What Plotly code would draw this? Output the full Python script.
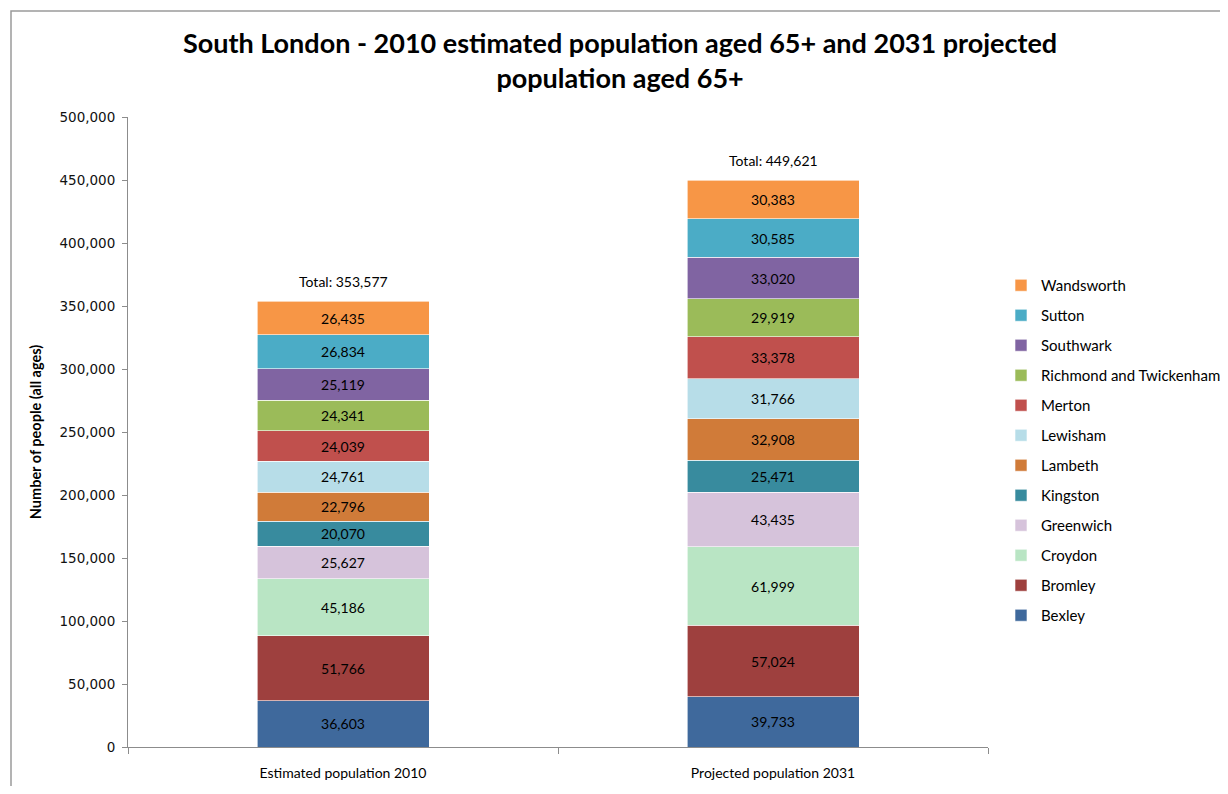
import plotly.graph_objects as go

categories = ["Estimated population 2010", "Projected population 2031"]
boroughs = ["Bexley", "Bromley", "Croydon", "Greenwich", "Kingston", "Lambeth",
            "Lewisham", "Merton", "Richmond and Twickenham", "Southwark", "Sutton", "Wandsworth"]
values_2010 = [36603, 51766, 45186, 25627, 20070, 22796, 24761, 24039, 24341, 25119, 26834, 26435]
values_2031 = [39733, 57024, 61999, 43435, 25471, 32908, 31766, 33378, 29919, 33020, 30585, 30383]
colors = ["#3F699C", "#9E403E", "#B9E5C4", "#D6C3DB", "#388B9E", "#D07B39",
          "#B7DDE8", "#C0504D", "#9BBB59", "#8064A2", "#4BACC6", "#F79646"]
totals = [sum(values_2010), sum(values_2031)]

FONT = "Lato"
fig = go.Figure()
n = len(boroughs)
for i, b in enumerate(boroughs):
    vals = [values_2010[i], values_2031[i]]
    fig.add_trace(go.Bar(
        x=categories, y=vals, name=b, legendgroup=b, legendrank=100 + (n - i),
        marker=dict(color=colors[i], line=dict(color="white", width=0.6)),
        text=[f"{v:,}" for v in vals], textposition="inside", insidetextanchor="middle",
        textfont=dict(family=FONT, size=14, color="black"),
        width=0.4, hoverinfo="skip",
    ))

for c, t in zip(categories, totals):
    fig.add_annotation(x=c, y=t, text=f"Total: {t:,}", showarrow=False,
                       yanchor="bottom", yshift=9,
                       font=dict(family=FONT, size=14, color="black"))

# page has 8px body margin; figure sized so the whole page is 1228x794
OFF = 8
W, H = 1228 - 2 * OFF, 794 - 2 * OFF
L, T = 128 - OFF, 117 - OFF
R = W - (988 - OFF)
B = H - (747 - OFF)
pw, ph = W - L - R, H - T - B
def px(x): return (x - OFF - L) / pw
def py(y): return (H - B - (y - OFF)) / ph

fig.add_shape(type="rect", xref="paper", yref="paper",
              x0=px(11), x1=px(1250), y0=py(810), y1=py(11),
              line=dict(color="#9a9a9a", width=1.5), fillcolor="rgba(0,0,0,0)", layer="below")

fig.update_layout(
    barmode="stack", width=W, height=H,
    margin=dict(l=L, r=R, t=T, b=B, autoexpand=False),
    plot_bgcolor="white", paper_bgcolor="white",
    title=dict(text="<b>South London - 2010 estimated population aged 65+ and 2031 projected<br>population aged 65+</b>",
               x=0.505, xanchor="center", y=1 - (53 - OFF) / H, yanchor="middle",
               font=dict(family=FONT, size=27, color="black")),
    yaxis=dict(range=[0, 500000], dtick=50000, tickformat=",", showgrid=False,
               showline=True, linecolor="#8c8c8c", linewidth=1,
               ticks="outside", ticklen=5, tickcolor="#8c8c8c", ticklabelstandoff=4,
               tickfont=dict(family="DejaVu Sans", size=13.5, color="#111"),
               title=dict(text="<b>Number of people (all ages)</b>", standoff=14,
                          font=dict(family=FONT, size=14.5, color="black"))),
    xaxis=dict(showline=True, linecolor="#8c8c8c", linewidth=1,
               ticks="outside", tickson="boundaries", ticklen=6, tickcolor="#8c8c8c",
               ticklabelstandoff=13,
               tickfont=dict(family=FONT, size=14, color="black")),
    legend=dict(x=px(1001), xanchor="left", y=py(269), yanchor="top",
                traceorder="grouped", tracegroupgap=7.5,
                font=dict(family=FONT, size=15, color="black")),
    showlegend=True, hovermode=False,
)

fig.write_html("out.html")
